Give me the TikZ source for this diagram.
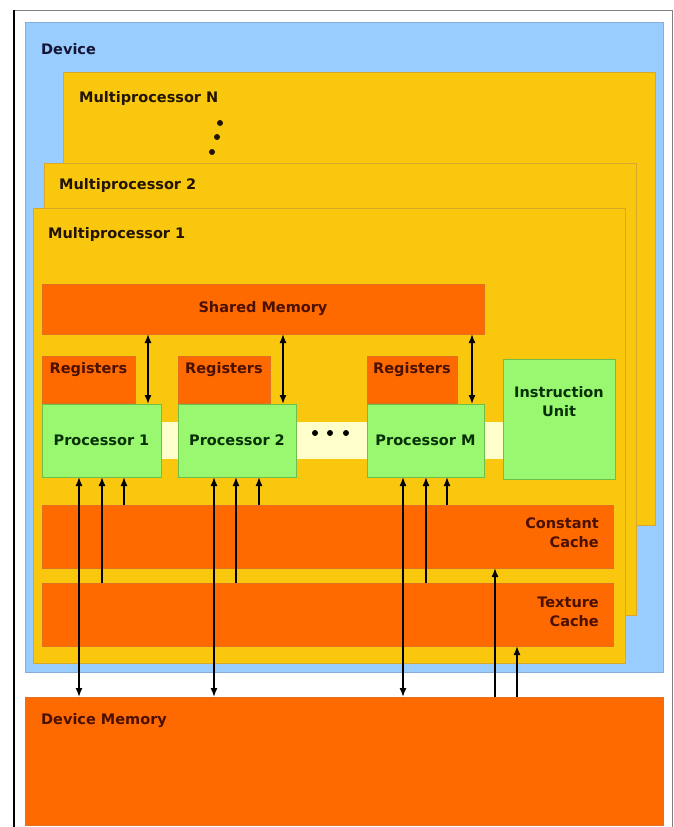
\documentclass[tikz,border=0pt]{standalone}
\usepackage{fontspec}
\setmainfont{DejaVu Sans}
\usetikzlibrary{arrows.meta}

\definecolor{devblue}{HTML}{99CCFF}
\definecolor{devline}{HTML}{86AEDC}
\definecolor{mpyellow}{HTML}{F9C80E}
\definecolor{mpline}{HTML}{D9A828}
\definecolor{memorange}{HTML}{FF6A00}
\definecolor{memline}{HTML}{E2701E}
\definecolor{procgreen}{HTML}{99F770}
\definecolor{procline}{HTML}{6CC04A}
\definecolor{bandyellow}{HTML}{FFFFCC}
\definecolor{navytext}{HTML}{141436}
\definecolor{browntext}{HTML}{221400}
\definecolor{redtext}{HTML}{4A1000}
\definecolor{greentext}{HTML}{063006}

\tikzset{
  box/.style={rectangle,anchor=north west,inner sep=0,outer sep=0,line width=0.8pt},
  devbox/.style={box,draw=devline,fill=devblue},
  mpbox/.style={box,draw=mpline,fill=mpyellow},
  membox/.style={box,draw=memline,fill=memorange},
  procbox/.style={box,draw=procline,fill=procgreen},
  lbl/.style={inner sep=0,font=\fontsize{14.5}{19}\selectfont\bfseries},
  uni/.style={-{Latex[length=9pt,width=7pt]},line width=1.4pt},
  bi/.style={{Latex[length=9pt,width=7pt]}-{Latex[length=9pt,width=7pt]},line width=1.4pt}
}

\begin{document}
\begin{tikzpicture}[x=1pt,y=-1pt]
	\useasboundingbox (0,0) rectangle (673,827);
	\draw[gray,line width=1pt] (14,10) -- (672,10) -- (672,827);
	\draw[black,line width=1.2pt] (14,10) -- (14,827);
	% device and multiprocessors
	\node[devbox,minimum width=638pt,minimum height=650pt] (dev) at (25,22) {};
	\node[lbl,anchor=west,text=navytext] (devlbl) at (41,49) {Device};
	\node[mpbox,minimum width=592pt,minimum height=453pt] (mpN) at (63,72) {};
	\node[lbl,anchor=west,text=browntext] (mpNlbl) at (79,98) {Multiprocessor N};
	\fill[browntext] (220,123) circle (3) (217,137) circle (3) (212,152) circle (3);
	\node[mpbox,minimum width=592pt,minimum height=452pt] (mp2) at (44,163) {};
	\node[lbl,anchor=west,text=browntext] (mp2lbl) at (59,185) {Multiprocessor 2};
	\node[mpbox,minimum width=592pt,minimum height=455pt] (mp1) at (33,208) {};
	\node[lbl,anchor=west,text=browntext] (mp1lbl) at (48,234) {Multiprocessor 1};
	% shared memory, registers, processors
	\node[membox,minimum width=442pt,minimum height=50pt,lbl,text=redtext] (shm) at (42,284) {Shared Memory};
	\node[box,fill=bandyellow,minimum width=342pt,minimum height=37pt] (band) at (161,422) {};
	\node[membox,minimum width=93pt,minimum height=47pt] (reg1) at (42,356) {};
	\node[membox,minimum width=92pt,minimum height=47pt] (reg2) at (178,356) {};
	\node[membox,minimum width=90pt,minimum height=47pt] (regM) at (367,356) {};
	\node[lbl,text=redtext] (reg1lbl) at (88.5,370) {Registers};
	\node[lbl,text=redtext] (reg2lbl) at (224,370) {Registers};
	\node[lbl,text=redtext] (regMlbl) at (412,370) {Registers};
	\node[procbox,minimum width=119pt,minimum height=73pt,lbl,text=greentext] (p1) at (42,404) {Processor 1};
	\node[procbox,minimum width=118pt,minimum height=73pt,lbl,text=greentext] (p2) at (178,404) {Processor 2};
	\node[procbox,minimum width=117pt,minimum height=73pt,lbl,text=greentext] (pM) at (367,404) {Processor M};
	\fill[black] (315,433) circle (3) (330,433) circle (3) (346,433) circle (3);
	\node[procbox,minimum width=112pt,minimum height=120pt] (iu) at (503,359) {};
	\node[lbl,align=center,text=greentext] (iulbl) at (559,402) {Instruction\\Unit};
	% caches and device memory
	\node[membox,minimum width=571pt,minimum height=63pt] (cc) at (42,505) {};
	\node[lbl,anchor=east,align=right,text=redtext] (cclbl) at (599,533) {Constant\\Cache};
	\node[membox,minimum width=571pt,minimum height=63pt] (tc) at (42,583) {};
	\node[lbl,anchor=east,align=right,text=redtext] (tclbl) at (599,612) {Texture\\Cache};
	\node[membox,minimum width=638pt,minimum height=128pt] (dm) at (25,697) {};
	\node[lbl,anchor=west,text=redtext] (dmlbl) at (41,721) {Device Memory};
	% connectors
	\draw[bi] (148,0 |- shm.south) -- (148,0 |- p1.north);
	\draw[bi] (283,0 |- shm.south) -- (283,0 |- p2.north);
	\draw[bi] (472,0 |- shm.south) -- (472,0 |- pM.north);
	\draw[bi] (79,0 |- p1.south) -- (79,0 |- dm.north);
	\draw[uni] (102,0 |- tc.north) -- (102,0 |- p1.south);
	\draw[uni] (124,0 |- cc.north) -- (124,0 |- p1.south);
	\draw[bi] (214,0 |- p2.south) -- (214,0 |- dm.north);
	\draw[uni] (236,0 |- tc.north) -- (236,0 |- p2.south);
	\draw[uni] (259,0 |- cc.north) -- (259,0 |- p2.south);
	\draw[bi] (403,0 |- pM.south) -- (403,0 |- dm.north);
	\draw[uni] (426,0 |- tc.north) -- (426,0 |- pM.south);
	\draw[uni] (447,0 |- cc.north) -- (447,0 |- pM.south);
	\draw[uni] (495,0 |- dm.north) -- (495,0 |- cc.south);
	\draw[uni] (517,0 |- dm.north) -- (517,0 |- tc.south);
\end{tikzpicture}
\end{document}
